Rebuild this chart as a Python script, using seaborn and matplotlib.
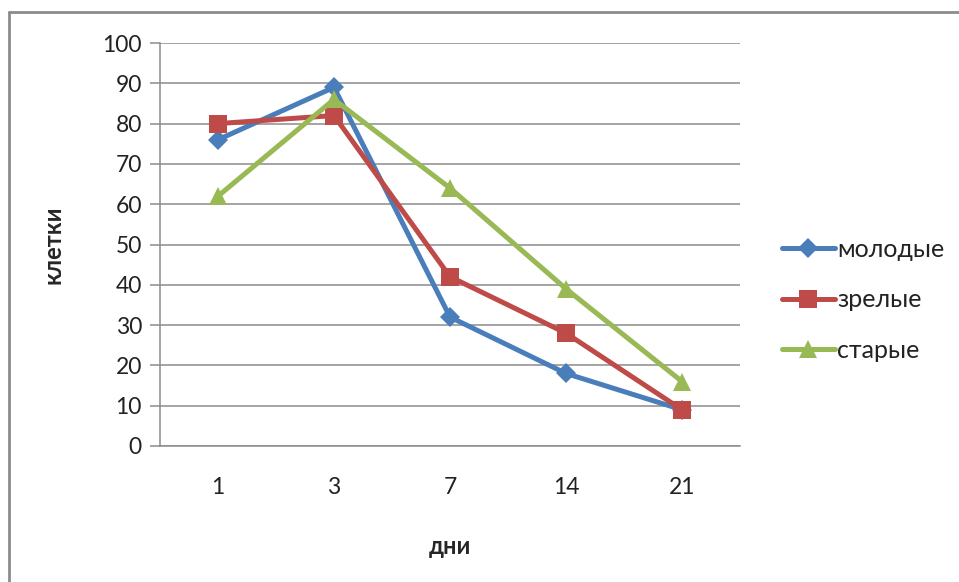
import matplotlib
matplotlib.use("Agg")
import matplotlib.pyplot as plt
import seaborn as sns
import pandas as pd
from matplotlib.lines import Line2D

days = ["1", "3", "7", "14", "21"]
young = [76, 89, 32, 18, 9]
mature = [80, 82, 42, 28, 9]
old = [62, 86, 64, 39, 16]
series_names = ["молодые", "зрелые", "старые"]
y_ticks = list(range(0, 101, 10))

sns.set_theme(style="white")
plt.rcParams["font.family"] = ["Lato", "DejaVu Sans"]

df = pd.DataFrame({
    "day": days * 3,
    "cells": young + mature + old,
    "group": [series_names[0]] * 5 + [series_names[1]] * 5 + [series_names[2]] * 5,
})

colors = {"молодые": "#4A7EBB", "зрелые": "#BE4B48", "старые": "#98B954"}
markers = {"молодые": "D", "зрелые": "s", "старые": "^"}
msizes = {"молодые": 10.5, "зрелые": 13.5, "старые": 13.5}

fig = plt.figure(figsize=(9.59, 5.82), dpi=100)
ax = fig.add_axes([160 / 959, 1 - 446 / 582, 580 / 959, 403 / 582])

for name in series_names:
    sub = df[df["group"] == name]
    sns.lineplot(data=sub, x="day", y="cells", ax=ax, color=colors[name],
                 marker=markers[name], markersize=msizes[name],
                 markeredgewidth=0, linewidth=3.6, label=name, sort=False)

ax.set_xlim(-0.5, 4.5)
ax.set_ylim(0, 100)
ax.set_yticks(y_ticks)
ax.grid(axis="y", color="#8C8C8C", linewidth=1.1)
ax.set_axisbelow(True)
for side in ["top", "right"]:
    ax.spines[side].set_visible(False)
for side in ["left", "bottom"]:
    ax.spines[side].set_color("#8C8C8C")
    ax.spines[side].set_linewidth(1.1)
ax.tick_params(axis="y", which="major", length=7, width=1.1, color="#8C8C8C",
               direction="out", left=True, labelsize=16.5, pad=6, labelcolor="#222222")
ax.tick_params(axis="x", length=0, labelsize=16.5, pad=22, labelcolor="#222222")

ax.set_xlabel("дни", fontsize=17, fontweight="bold", labelpad=27)
ax.set_ylabel("клетки", fontsize=17, fontweight="bold", labelpad=27)

leg = ax.legend(loc="center left", bbox_to_anchor=(772 / 959, 1 - 300 / 582),
                bbox_transform=fig.transFigure, frameon=False, fontsize=18,
                handlelength=2.1, handletextpad=0.1, labelspacing=1.1,
                borderaxespad=0)
for t in leg.get_texts():
    t.set_color("#222222")

# chart frame: left and top edges inside the image
frame_kw = dict(transform=fig.transFigure, color="#8C8C8C", linewidth=2)
fig.add_artist(Line2D([9 / 959, 9 / 959], [0, 1 - 12 / 582], **frame_kw))
fig.add_artist(Line2D([9 / 959, 1], [1 - 12 / 582, 1 - 12 / 582], **frame_kw))

fig.savefig("out.png", dpi=100, facecolor="white")
